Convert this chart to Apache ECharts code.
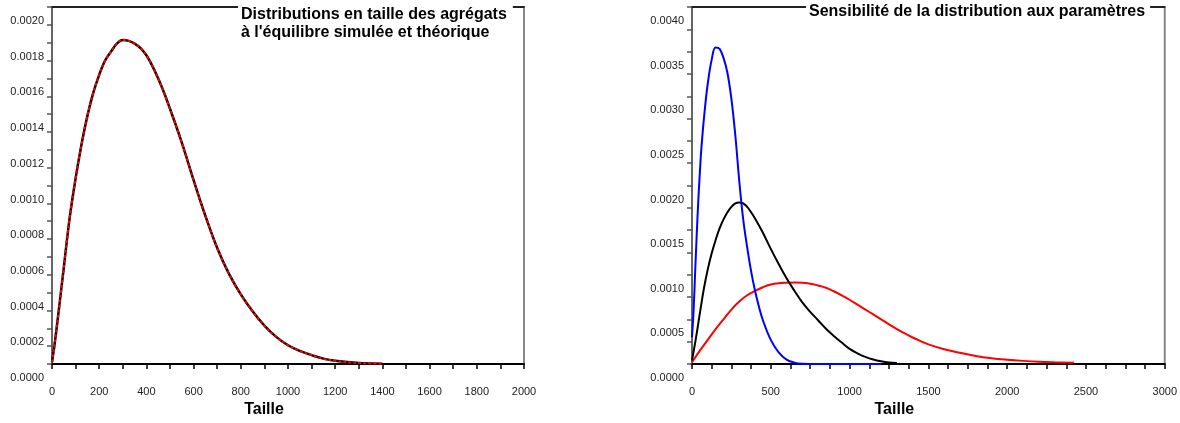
<!DOCTYPE html>
<html><head><meta charset="utf-8">
<script src="https://cdn.jsdelivr.net/npm/echarts@6/dist/echarts.min.js"></script>
<style>html,body{margin:0;padding:0;background:#fff}#c{width:1180px;height:423px}</style>
</head><body><div id="c"></div>
<script>
// ---- Left chart: equilibrium size distribution (simulated vs theoretical)
const leftX = [0,10,25,50,75,100,125,150,175,200,225,250,275,300,325,350,375,400,425,450,475,500,550,600,650,700,750,800,850,900,950,1000,1050,1100,1150,1200,1300,1400];
const leftSimulated = [0.00001,0.0001,0.00026,0.00054,0.00082,0.00104,0.00123,0.00139,0.00152,0.00162,0.00170,0.00175,0.001795,0.001815,0.00181,0.001795,0.00177,0.00173,0.00167,0.00160,0.00152,0.00143,0.00124,0.00103,0.00083,0.00065,0.000505,0.00039,0.000295,0.000215,0.000152,0.000105,0.000073,0.00005,0.00003,0.000018,0.000006,0.000002];
const leftTheoretical = [0.00001,0.0001,0.00026,0.00054,0.00082,0.00104,0.00123,0.00139,0.00152,0.00162,0.00170,0.00175,0.001795,0.001815,0.00181,0.001795,0.00177,0.00173,0.00167,0.00160,0.00152,0.00143,0.00124,0.00103,0.00083,0.00065,0.000505,0.00039,0.000295,0.000215,0.000152,0.000105,0.000073,0.00005,0.00003,0.000018,0.000006,0.000002];

// ---- Right chart: sensitivity to parameters
const blueX = [0,10,20,30,40,50,60,80,100,125,150,175,200,225,250,275,300,325,350,375,400,425,450,500,550,600,650,700,800,1200];
const blueY = [0.0003,0.0006,0.00103,0.00145,0.00183,0.00215,0.00243,0.00283,0.00314,0.00341,0.003545,0.00353,0.00343,0.00326,0.00297,0.00256,0.00205,0.00162,0.00131,0.00104,0.00082,0.00064,0.00049,0.00027,0.00013,0.00005,0.000015,0.000003,0,0];
const blackX = [0,25,50,75,100,125,150,175,200,225,250,275,300,325,350,375,400,450,500,550,600,650,700,750,800,850,900,950,1000,1050,1100,1150,1200,1250,1300];
const blackY = [0.00004,0.00029,0.00057,0.00084,0.00106,0.00124,0.00139,0.00152,0.00162,0.00170,0.00176,0.0018,0.00181,0.0018,0.00176,0.0017,0.00163,0.00147,0.00129,0.00112,0.00096,0.00082,0.00069,0.000585,0.00049,0.000395,0.000315,0.00024,0.00017,0.00012,0.00008,0.00005,0.00003,0.000017,0.00001];
const redX = [0,50,100,150,200,250,300,350,400,450,500,550,600,650,700,750,800,850,900,950,1000,1050,1100,1150,1200,1250,1300,1350,1400,1450,1500,1600,1700,1800,1900,2000,2100,2200,2300,2425];
const redY = [0.00002,0.00015,0.00027,0.00039,0.0005,0.00061,0.0007,0.00077,0.00082,0.00086,0.00089,0.000905,0.00091,0.000912,0.00091,0.0009,0.00088,0.000855,0.000815,0.00077,0.00072,0.000665,0.00061,0.000555,0.0005,0.000445,0.000392,0.000342,0.000297,0.000257,0.00022,0.000165,0.000125,0.00009,0.000065,0.000048,0.000035,0.000025,0.000019,0.000014];

const leftTitle = "Distributions en taille des agrégats\nà l'équilibre simulée et théorique";
const rightTitle = "Sensibilité de la distribution aux paramètres";
const axisName = "Taille";

const pairs = (xs, ys) => xs.map((x, i) => [x, ys[i]]);
const FONT = "'Liberation Sans', Arial, sans-serif";
const labelColor = '#222';

function xAxisCfg(gridIndex, max, interval, minorSplit, shift) {
  return {
    type: 'value', gridIndex, min: 0, max, interval, position: 'bottom',
    axisLine: { show: true, onZero: false, lineStyle: { color: '#000', width: 2 } },
    axisTick: { show: true, length: 5, lineStyle: { color: '#000', width: 1.5 } },
    minorTick: { show: true, splitNumber: minorSplit, length: 5, lineStyle: { color: '#000', width: 1.5 } },
    splitLine: { show: false },
    axisLabel: { margin: 22, fontFamily: FONT, fontSize: 11, color: labelColor, formatter: v => String(v) },
    name: axisName, nameLocation: 'middle', nameGap: 36,
    nameTextStyle: { fontFamily: FONT, fontSize: 16, fontWeight: 'bold', color: '#000', padding: [0, shift * 2, 0, 0] }
  };
}
function topAxisCfg(gridIndex, max) {
  return {
    type: 'value', gridIndex, min: 0, max, position: 'top',
    axisLine: { show: true, onZero: false, lineStyle: { color: '#000', width: 1.5 } },
    axisTick: { show: false }, axisLabel: { show: false }, splitLine: { show: false }
  };
}
function yAxisCfg(gridIndex, max, interval) {
  return {
    type: 'value', gridIndex, min: 0, max, interval,
    axisLine: { show: true, onZero: false, lineStyle: { color: '#666', width: 2 } },
    axisTick: { show: true, length: 5, lineStyle: { color: '#555', width: 1.5 } },
    minorTick: { show: true, splitNumber: 2, length: 5, lineStyle: { color: '#555', width: 1.5 } },
    splitLine: { show: false },
    axisLabel: {
      margin: 8, fontFamily: FONT, fontSize: 11, color: labelColor,
      verticalAlign: 'top', lineHeight: 28,
      formatter: v => v.toFixed(4)
    }
  };
}

const chart = echarts.init(document.getElementById('c'), null, { renderer: 'canvas' });
chart.setOption({
  animation: false,
  backgroundColor: '#fff',
  title: [
    { text: leftTitle, left: 238, top: 4, padding: [2, 6, 6, 3], backgroundColor: '#fff',
      textStyle: { fontFamily: FONT, fontSize: 16, fontWeight: 'bold', color: '#000', lineHeight: 18 } },
    { text: rightTitle, left: 806, top: 0, padding: [3, 5, 3, 3], backgroundColor: '#fff',
      textStyle: { fontFamily: FONT, fontSize: 16, fontWeight: 'bold', color: '#000', lineHeight: 18 } }
  ],
  grid: [
    { left: 52, right: 656, top: 7, bottom: 59, show: true, borderColor: '#888', borderWidth: 2, backgroundColor: 'transparent' },
    { left: 692, right: 14, top: 7, bottom: 59, show: true, borderColor: '#888', borderWidth: 2, backgroundColor: 'transparent' }
  ],
  xAxis: [
    xAxisCfg(0, 2000, 200, 2, 24),
    xAxisCfg(1, 3000, 500, 4, 34),
    topAxisCfg(0, 2000),
    topAxisCfg(1, 3000)
  ],
  yAxis: [
    yAxisCfg(0, 0.002, 0.0002),
    yAxisCfg(1, 0.004, 0.0005)
  ],
  series: [
    { type: 'line', xAxisIndex: 0, yAxisIndex: 0, data: pairs(leftX, leftTheoretical), smooth: 0.4,
      symbol: 'none', lineStyle: { color: '#000', width: 2.5 } },
    { type: 'line', xAxisIndex: 0, yAxisIndex: 0, data: pairs(leftX, leftSimulated), smooth: 0.4,
      symbol: 'none', lineStyle: { color: '#f00', width: 2, type: [3, 2] } },
    { type: 'line', xAxisIndex: 1, yAxisIndex: 1, data: pairs(redX, redY), smooth: 0.4,
      symbol: 'none', lineStyle: { color: '#f00', width: 2 } },
    { type: 'line', xAxisIndex: 1, yAxisIndex: 1, data: pairs(blackX, blackY), smooth: 0.4,
      symbol: 'none', lineStyle: { color: '#000', width: 2 } },
    { type: 'line', xAxisIndex: 1, yAxisIndex: 1, data: pairs(blueX, blueY), smooth: 0.4,
      symbol: 'none', lineStyle: { color: '#00f', width: 2 } }
  ]
});
</script>
</body></html>
